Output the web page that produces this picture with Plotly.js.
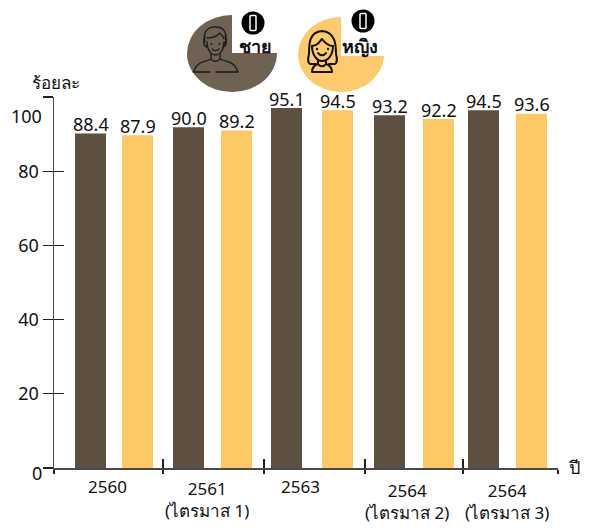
<!DOCTYPE html>
<html>
<head>
<meta charset="utf-8">
<script src="https://cdn.plot.ly/plotly-3.0.1.min.js"></script>
<style>html,body{margin:0;padding:0;background:#fff}</style>
</head>
<body>
<div id="chart" style="width:589px;height:528px"></div>
<script>
// ---- data ----
const years = ['2560', '2561<br>(ไตรมาส 1)', '2563', '2564<br>(ไตรมาส 2)', '2564<br>(ไตรมาส 3)'];
const male = [88.4, 90.0, 95.1, 93.2, 94.5];
const female = [87.9, 89.2, 94.5, 92.2, 93.6];
const maleLabels = ['88.4', '90.0', '95.1', '93.2', '94.5'];
const femaleLabels = ['87.9', '89.2', '94.5', '92.2', '93.6'];
const yTicks = [0, 20, 40, 60, 80, 100];

// ---- layout constants (page pixels) ----
const L = 54, R = 558, T = 85, B = 468;
const malePos = [90.5, 188.5, 286.5, 389.5, 483.5];
const femalePos = [137.5, 236.5, 337.5, 438.5, 531.5];
const groupTicks = [54, 163, 264, 365, 463, 558];
const yearLabelX = [107, 207, 300, 407, 507];
const yearLabelY = [487, 499, 487, 501, 501];
const FONT = '"Noto Sans", "DejaVu Sans", sans-serif';
const px = x => (x - L) / (R - L);
const py = y => (B - y) / (B - T);

const axisCol = '#4a4a4a', tickCol = '#222';

const icons = `<svg xmlns="http://www.w3.org/2000/svg" width="589" height="110" viewBox="0 0 589 110">
<path d="M232 53 V15 A45 38.5 0 1 0 277 53 Z" fill="#6f6253"/>
<path d="M341 56 V17 A43 37.5 0 1 0 384 56 Z" fill="#fdca6c"/>
<g fill="none" stroke="#1a1a1a" stroke-width="1.3" stroke-linecap="round" stroke-linejoin="round">
<path d="M205 42 C202 30 210 26 216 27 C224 27 228 33 225 44"/>
<path d="M205 36 C203 40 203 46 207 47 M225 36 C227 40 227 46 223 47"/>
<path d="M207 38 C213 38 218 35 220 33 C222 36 224 37 224 39"/>
<path d="M207 42 C207 50 211 55 215.500 55 C220 55 224 50 224 42"/>
<path d="M212 49 C214 51 217 51 219 49"/>
<path d="M211 54 V59 C205 62 197 62 195 69 L193 72 H210 M216 72 H238 L236 68 C234 62 226 62 220 59 V54"/>
<path d="M211 59 C213 62 218 62 220 59"/>
</g>
<g fill="#1a1a1a"><circle cx="211.500" cy="44" r="1"/><circle cx="219.500" cy="44" r="1"/></g>
<g fill="none" stroke="#111" stroke-width="2" stroke-linecap="round" stroke-linejoin="round">
<path d="M316 64 H310 C307 62 308 58 309 54 C309 44 309 32 322 31 C335 32 336 44 336 54 C337 58 338 62 335 64 H329"/>
<path d="M312 46 C318 46 320 41 322 39 C325 43 328 46 333 46"/>
<path d="M312 46 C312 55 317 61 322 61 C328 61 333 55 333 46"/>
<path d="M318 53 C320 56 324 56 326 53"/>
<path d="M318 60 V64 C315 65 312 67 312 72 H332 C332 67 329 65 326 64 V60"/>
<path d="M318 64 C320 67 324 67 326 64"/>
</g>
<g fill="#111"><circle cx="317" cy="49" r="1.200"/><circle cx="328" cy="49" r="1.200"/></g>
<circle cx="253" cy="23" r="11.500" fill="#000"/>
<rect x="250" y="15.500" width="6" height="15" rx="1" fill="#000" stroke="#fff" stroke-width="1.500"/>
<circle cx="363" cy="21" r="11.500" fill="#000"/>
<rect x="360" y="13.500" width="6" height="15" rx="1" fill="#000" stroke="#fff" stroke-width="1.500"/>
</svg>`;

const traces = [
  {type: 'bar', name: 'ชาย', x: malePos, y: male, xaxis: 'x', yaxis: 'y2', width: 31,
   marker: {color: '#5d5040'}, hoverinfo: 'none'},
  {type: 'bar', name: 'หญิง', x: femalePos, y: female, xaxis: 'x', yaxis: 'y2', width: 31,
   marker: {color: '#fec864'}, hoverinfo: 'none'},
  // empty traces keep the visible tick axes alive
  {type: 'scatter', x: [], y: [], xaxis: 'x', yaxis: 'y', hoverinfo: 'none'},
  {type: 'scatter', x: [], y: [], xaxis: 'x', yaxis: 'y3', hoverinfo: 'none'},
  {type: 'scatter', x: [], y: [], xaxis: 'x2', yaxis: 'y', hoverinfo: 'none'}
];

const ann = (x, y, text, size, extra) => Object.assign({
  xref: 'paper', yref: 'paper', x: px(x), y: py(y), text: text, showarrow: false,
  xanchor: 'center', yanchor: 'middle', font: {family: FONT, size: size, color: '#111'}
}, extra || {});

const annotations = [
  ann(56, 82, 'ร้อยละ', 17),
  ann(574, 467, 'ปี', 18),
  ann(255, 46, '<b>ชาย</b>', 18),
  ann(360, 46, '<b>หญิง</b>', 18),
  ann(44, 116, '100', 18, {xanchor: 'right'}),
  ann(44, 473, '0', 18, {xanchor: 'right'})
];
years.forEach((t, i) => annotations.push(ann(yearLabelX[i], yearLabelY[i], t, 17)));

// value labels sit on the bar scale, just above each bar
const valueLabel = (x, y, text) => ({
  xref: 'x', yref: 'y2', x: x, y: y, yshift: 9.5, text: text, showarrow: false,
  xanchor: 'center', yanchor: 'middle', font: {family: FONT, size: 18, color: '#111'}
});
male.forEach((v, i) => annotations.push(valueLabel(malePos[i], v, maleLabels[i])));
female.forEach((v, i) => annotations.push(valueLabel(femalePos[i], v, femaleLabels[i])));

const layout = {
  width: 589, height: 528,
  margin: {l: L, r: 589 - R, t: T, b: 528 - B, pad: 0},
  paper_bgcolor: '#fff', plot_bgcolor: 'rgba(0,0,0,0)',
  showlegend: false, barmode: 'overlay',
  font: {family: FONT, color: '#111'},
  xaxis: {range: [L, R], tickmode: 'array', tickvals: groupTicks, ticktext: groupTicks.map(() => ''),
    ticks: 'outside', ticklen: 4, tickwidth: 1.3, tickcolor: tickCol,
    showgrid: false, zeroline: false, showline: true, linecolor: axisCol, linewidth: 2,
    anchor: 'y'},
  xaxis2: {range: [L, R], overlaying: 'x', anchor: 'y', tickmode: 'array', tickvals: groupTicks,
    ticktext: groupTicks.map(() => ''), ticks: 'inside', ticklen: 9, tickwidth: 1.3, tickcolor: tickCol,
    showgrid: false, zeroline: false, showline: false},
  // visible scale, as printed in the picture
  yaxis: {domain: [0, (B - 97) / (B - T)], range: [0, 100], tickmode: 'array', tickvals: yTicks,
    ticktext: yTicks.map(v => (v === 0 || v === 100) ? '' : String(v)),
    tickfont: {family: FONT, size: 18, color: '#111'},
    ticks: 'outside', ticklen: 10, tickwidth: 1.3, tickcolor: tickCol,
    showgrid: false, zeroline: false, showline: true, linecolor: axisCol, linewidth: 1.5, anchor: 'x'},
  yaxis3: {overlaying: 'y', anchor: 'x', range: [0, 100], tickmode: 'array',
    tickvals: yTicks, ticktext: yTicks.map(() => ''),
    ticks: 'inside', ticklen: 10, tickwidth: 1.3, tickcolor: tickCol,
    showgrid: false, zeroline: false, showline: false},
  // scale the bars were drawn on in the picture
  yaxis2: {domain: [0, 1], range: [0, (B - T) / 3.785], visible: false, anchor: 'x'},
  annotations: annotations,
  images: [{
    source: 'data:image/svg+xml;charset=utf-8,' + encodeURIComponent(icons),
    xref: 'paper', yref: 'paper', x: px(0), y: py(0),
    sizex: 589 / (R - L), sizey: 110 / (B - T),
    xanchor: 'left', yanchor: 'top', sizing: 'stretch', layer: 'above'
  }]
};

Plotly.newPlot('chart', traces, layout, {staticPlot: true, displayModeBar: false});
</script>
</body>
</html>
